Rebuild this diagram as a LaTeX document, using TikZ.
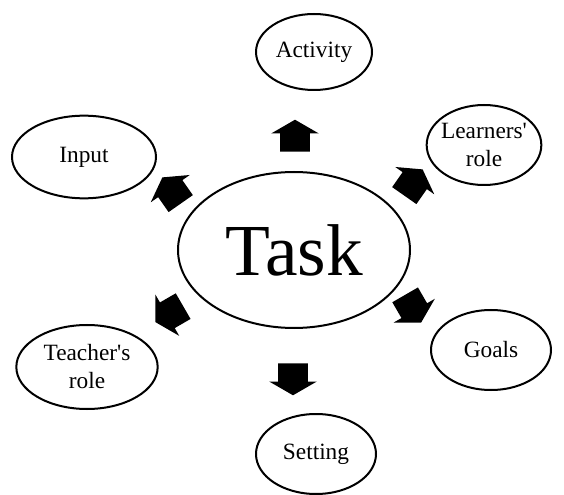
\documentclass[tikz,border=0pt]{standalone}
\usepackage{fontspec}
\setmainfont{Liberation Serif}
\usetikzlibrary{shapes.geometric, shapes.arrows}

\tikzset{
    oval/.style={ellipse, draw, line width=1.5pt, inner sep=0pt,
        align=center, font=\fontsize{17.5}{21}\selectfont},
    blockarrow/.style={single arrow, fill=black, inner xsep=0pt, inner ysep=10.9pt,
        minimum height=24pt, single arrow head extend=6.75pt,
        single arrow tip angle=120}
}

\begin{document}
\begin{tikzpicture}[x=0.75pt, y=-0.75pt]
    \useasboundingbox (0,0) rectangle (564,495);

    % 1. Central ellipse
    \node[oval, minimum width=174pt, minimum height=117pt,
        font=\fontsize{55}{57}\selectfont] (task) at (294,250) {Task};

    % 2. Surrounding ellipses
    \node[oval, minimum width=87pt, minimum height=57pt] (activity) at (314,52) {Activity};
    \node[oval, minimum width=108pt, minimum height=62pt] (input) at (84,157) {Input};
    \node[oval, minimum width=86pt, minimum height=60pt, inner xsep=-4pt] (learners) at (484,145) {Learners\textquotesingle\\role};
    \node[oval, minimum width=90pt, minimum height=60pt] (goals) at (491,350) {Goals};
    \node[oval, minimum width=106pt, minimum height=63pt] (teacher) at (87,367) {Teacher\textquotesingle s\\role};
    \node[oval, minimum width=90pt, minimum height=60pt] (setting) at (316,454) {Setting};

    % 3. Block arrows around the centre
    \node[blockarrow, rotate=90] (a-activity) at (295,140) {};
    \node[blockarrow, rotate=125] (a-input) at (174,194) {};
    \node[blockarrow, rotate=55] (a-learners) at (411,186) {};
    \node[blockarrow, rotate=-60] (a-goals) at (411,305) {};
    \node[blockarrow, rotate=210] (a-teacher) at (173,312) {};
    \node[blockarrow, rotate=-90] (a-setting) at (293,375) {};
\end{tikzpicture}
\end{document}
